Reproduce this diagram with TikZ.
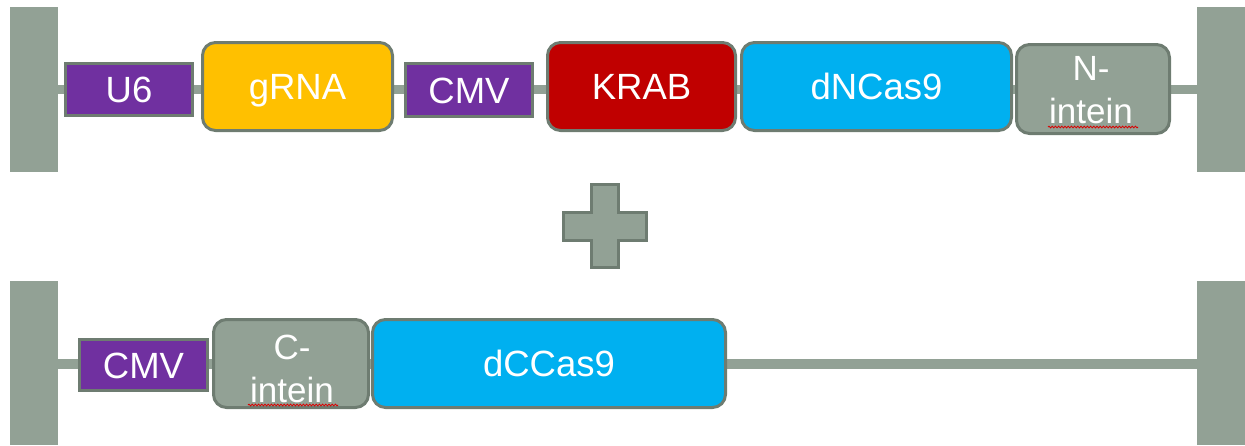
\documentclass[tikz,border=0pt]{standalone}
\usepackage{fontspec}
\setmainfont{Liberation Sans}
\usetikzlibrary{decorations.pathmorphing}
\definecolor{sage}{HTML}{92A195}
\definecolor{sagedark}{HTML}{6E7C71}
\definecolor{vpurple}{HTML}{7030A0}
\definecolor{vyellow}{HTML}{FFC000}
\definecolor{vred}{HTML}{C00000}
\definecolor{vblue}{HTML}{00B0F0}
\pgfdeclarelayer{background}
\pgfsetlayers{background,main}
\begin{document}
\begin{tikzpicture}[x=1pt,y=-1pt,
  every node/.style={inner sep=0pt, outer sep=0pt},
  bar/.style={fill=sage, draw=none, minimum width=48pt},
  part/.style={draw=sagedark, line width=3pt, text=white,
    font=\fontsize{36.5}{42}\selectfont, text height=26pt, text depth=0pt},
  promoter/.style={part, fill=vpurple},
  gene/.style={part, rounded corners=13pt},
  lbl/.style={text=white, font=\fontsize{35}{43}\selectfont, align=center},
  link/.style={draw=sage, line width=9pt},
  squiggle/.style={draw=red!85!black, line width=0.8pt, decorate,
    decoration={snake, amplitude=0.9pt, segment length=3.2pt}}
]
\path[use as bounding box] (0,0) rectangle (1245,445);

% ---------- top construct ----------
\node[bar, minimum height=165pt] (barTL) at (34,89.5) {};
\node[bar, minimum height=165pt] (barTR) at (1221,89.5) {};
\node[promoter, minimum width=127pt, minimum height=52pt] (U6) at (129,89.5) {U6};
\node[gene, fill=vyellow, minimum width=190pt, minimum height=88pt] (gRNA) at (297.5,86.5) {gRNA};
\node[promoter, minimum width=127pt, minimum height=53pt] (CMV1) at (469,90) {CMV};
\node[gene, fill=vred, minimum width=188pt, minimum height=88pt] (KRAB) at (641.5,86.5) {KRAB};
\node[gene, fill=vblue, minimum width=270pt, minimum height=88pt] (dNCas9) at (876.5,86.5) {dNCas9};
\node[gene, fill=sage, minimum width=153pt, minimum height=89pt] (Nint) at (1093,89) {};
\node[lbl] (NintT) at (1091,90) {N-\\intein};
\coordinate (sqN1) at (1048,127);
\coordinate (sqN2) at (1138,127);
\draw[squiggle] (sqN1) -- (sqN2);

\begin{pgfonlayer}{background}
  \draw[link] (barTL.east |- 0,89) -- (barTR.west |- 0,89);
\end{pgfonlayer}

% ---------- plus ----------
\draw[fill=sage, draw=sagedark, line width=3pt]
  (591.5,184.5) -- (618.5,184.5) -- (618.5,212.5) -- (646.5,212.5) -- (646.5,240.5)
  -- (618.5,240.5) -- (618.5,267.5) -- (591.5,267.5) -- (591.5,240.5) -- (563.5,240.5)
  -- (563.5,212.5) -- (591.5,212.5) -- cycle;

% ---------- bottom construct ----------
\node[bar, minimum height=164pt] (barBL) at (34,363) {};
\node[bar, minimum height=164pt] (barBR) at (1221,363) {};
\node[promoter, minimum width=128pt, minimum height=51pt] (CMV2) at (143.5,365) {CMV};
\node[gene, fill=sage, minimum width=155pt, minimum height=88pt] (Cint) at (291,363.5) {};
\node[lbl] (CintT) at (292,368.5) {C-\\intein};
\node[gene, fill=vblue, minimum width=353pt, minimum height=88pt] (dCCas9) at (549,363.5) {dCCas9};
\coordinate (sqC1) at (248,405);
\coordinate (sqC2) at (338,405);
\draw[squiggle] (sqC1) -- (sqC2);

\begin{pgfonlayer}{background}
  \draw[link, line width=10pt] (barBL.east |- 0,363.5) -- (barBR.west |- 0,363.5);
\end{pgfonlayer}
\end{tikzpicture}
\end{document}
